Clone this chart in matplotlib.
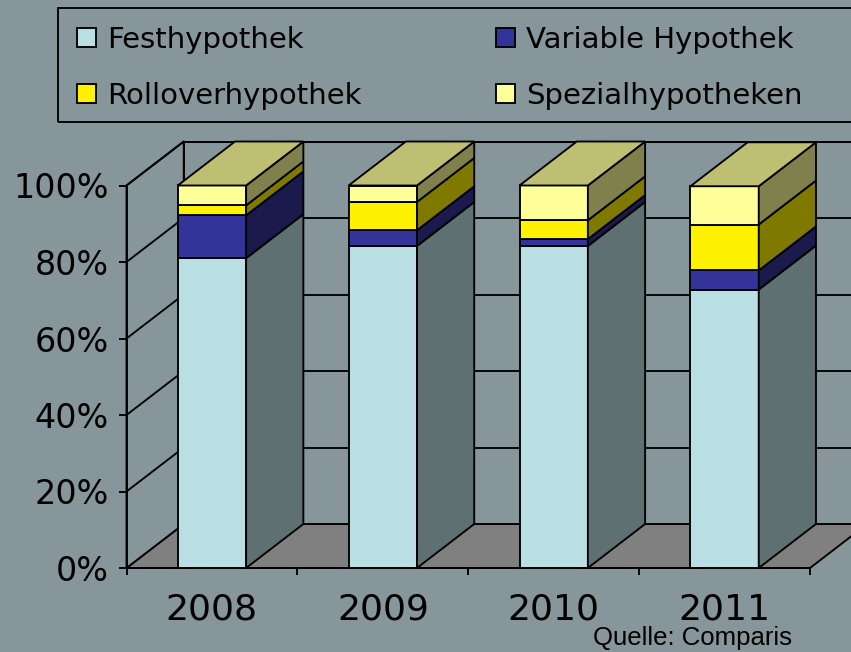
import matplotlib
matplotlib.use("Agg")
import matplotlib.pyplot as plt
from matplotlib.patches import Polygon, Rectangle, Patch

# data (share in %)
years = ["2008", "2009", "2010", "2011"]
series = ["Festhypothek", "Variable Hypothek", "Rolloverhypothek", "Spezialhypotheken"]
fest = [81.0, 84.2, 84.2, 72.8]
variabel = [11.2, 4.1, 1.8, 5.0]
rollover = [2.6, 7.4, 4.9, 12.0]
spezial = [5.2, 4.3, 9.1, 10.0]

front_colors = ["#badfe2", "#333399", "#fff200", "#ffff99"]
side_colors = ["#5e7072", "#1a1a4d", "#807900", "#80804d"]
top_color = "#bfbf73"
bg = "#86969a"
floor_color = "#808080"

DX = 0.335   # depth offset (category units)
DY = 11.5    # depth offset (percent units)
BAR_W = 0.40
LW = 1.35


def main():
    W, H = 851, 652
    fig = plt.figure(figsize=(W / 100, H / 100), dpi=100, facecolor=bg)
    ax = fig.add_axes([126.5 / W, (H - 568) / H, (810 - 126.5) / W, (568 - 185.5) / H])
    ax.set_facecolor("none")
    ax.set_xlim(-0.5, len(years) - 0.5)
    ax.set_ylim(0, 100)

    x0, x1 = -0.5, len(years) - 0.5

    # floor
    ax.add_patch(Polygon([(x0, 0), (x1, 0), (x1 + DX, DY), (x0 + DX, DY)],
                         facecolor=floor_color, edgecolor="black", lw=LW,
                         clip_on=False, zorder=1))
    # back wall
    ax.add_patch(Rectangle((x0 + DX, DY), x1 - x0, 100, facecolor=bg,
                           edgecolor="black", lw=LW, clip_on=False, zorder=1))
    # left wall
    ax.add_patch(Polygon([(x0, 0), (x0 + DX, DY), (x0 + DX, 100 + DY), (x0, 100)],
                         facecolor=bg, edgecolor="black", lw=LW,
                         clip_on=False, zorder=1))
    # gridlines on walls
    for v in range(20, 101, 20):
        ax.plot([x0 + DX, x1 + DX], [v + DY, v + DY], color="black", lw=LW,
                clip_on=False, zorder=1.5)
        ax.plot([x0, x0 + DX], [v, v + DY], color="black", lw=LW,
                clip_on=False, zorder=1.5)

    # stacked 3d bars
    stacks = [fest, variabel, rollover, spezial]
    for i in range(len(years)):
        bottom = 0.0
        left = i - BAR_W / 2
        right = i + BAR_W / 2
        for k, vals in enumerate(stacks):
            top = bottom + vals[i]
            ax.add_patch(Rectangle((left, bottom), BAR_W, vals[i],
                                   facecolor=front_colors[k], edgecolor="black",
                                   lw=LW, clip_on=False, zorder=3))
            ax.add_patch(Polygon([(right, bottom), (right + DX, bottom + DY),
                                  (right + DX, top + DY), (right, top)],
                                 facecolor=side_colors[k], edgecolor="black",
                                 lw=LW, clip_on=False, zorder=3))
            bottom = top
        ax.add_patch(Polygon([(left, bottom), (right, bottom),
                              (right + DX, bottom + DY), (left + DX, bottom + DY)],
                             facecolor=top_color, edgecolor="black", lw=LW,
                             clip_on=False, zorder=3))

    # axes
    for s in ["top", "right"]:
        ax.spines[s].set_visible(False)
    for s in ["left", "bottom"]:
        ax.spines[s].set_linewidth(LW)
        ax.spines[s].set_zorder(4)

    ax.set_yticks(range(0, 101, 20))
    ax.set_yticklabels([f"{v}%" for v in range(0, 101, 20)], fontsize=24)
    ax.set_xticks([x0 + j for j in range(len(years) + 1)])
    ax.set_xticklabels([])
    ax.set_xticks(range(len(years)), minor=True)
    ax.set_xticklabels(years, minor=True, fontsize=26)
    ax.tick_params(axis="y", direction="out", length=6, width=LW, pad=7)
    ax.tick_params(axis="x", which="major", direction="out", length=5, width=LW)
    ax.tick_params(axis="x", which="minor", length=0, pad=18)

    # legend
    order = [0, 2, 1, 3]
    handles = [Patch(facecolor=front_colors[k], edgecolor="black", lw=LW,
                     label=series[k]) for k in order]
    fig.legend(handles=handles, ncol=2, loc="upper left",
               bbox_to_anchor=(77 / W, 1 - 26 / H), frameon=False,
               fontsize=21, handlelength=0.65, handleheight=0.65,
               handletextpad=0.38, columnspacing=4.6, labelspacing=0.95,
               borderpad=0, borderaxespad=0)
    fig.add_artist(Rectangle((58 / W, 1 - 122 / H), 1.0, 114 / H, fill=False,
                             edgecolor="black", lw=LW,
                             transform=fig.transFigure))

    fig.text(593 / W, 1 - 645 / H, "Quelle: Comparis", fontsize=18.5,
             family="Liberation Sans", ha="left", va="baseline")

    fig.savefig("out.png", dpi=100, facecolor=bg)


if __name__ == "__main__":
    main()
